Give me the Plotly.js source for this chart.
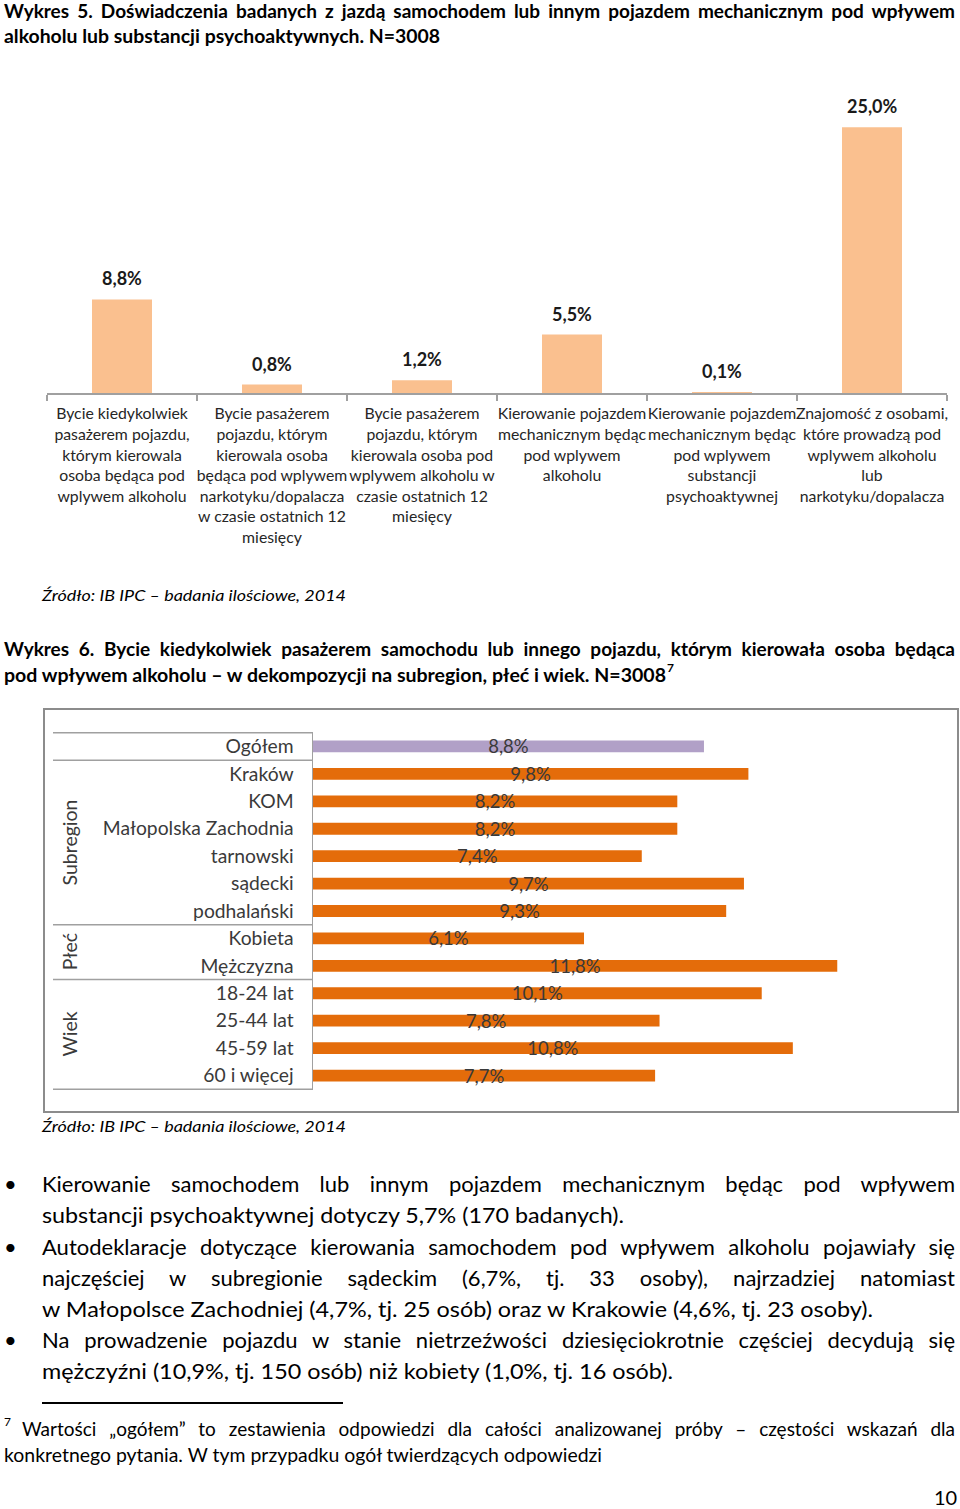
<!DOCTYPE html>
<html>
<head>
<meta charset="utf-8">
<script src="https://cdn.plot.ly/plotly-3.0.1.min.js"></script>
<style>
  html, body { margin:0; padding:0; background:#fff; }
  body { width:960px; height:1509px; position:relative; overflow:hidden; font-family: Lato, "Open Sans", sans-serif; color:#000; }
  .ln { position:absolute; white-space:nowrap; }
  .ln > span { display:inline-block; white-space:nowrap; transform-origin:0 50%; }
  .b { font-weight:700; }
  .i { font-style:italic; }
  #chart1 { position:absolute; left:0; top:60px; width:960px; height:500px; }
  #box2 { position:absolute; left:43px; top:708px; width:916px; height:405px; border:2px solid #8c8c8c; box-sizing:border-box; }
  #chart2 { position:absolute; left:-2px; top:-2px; width:916px; height:405px; }
  .rule { position:absolute; left:42px; top:1402px; width:301px; height:1.5px; background:#000; }
</style>
</head>
<body>
<div id="chart1"></div>
<div id="box2"><div id="chart2"></div></div>
<div class="rule"></div>
<div id="texts"></div>
<script>
// ---------- Chart 1 data (Wykres 5) ----------
const chart1Categories = [
  "Bycie kiedykolwiek<br>pasażerem pojazdu,<br>którym kierowala<br>osoba będąca pod<br>wplywem alkoholu",
  "Bycie pasażerem<br>pojazdu, którym<br>kierowala osoba<br>będąca pod wplywem<br>narkotyku/dopalacza<br>w czasie ostatnich 12<br>miesięcy",
  "Bycie pasażerem<br>pojazdu, którym<br>kierowala osoba pod<br>wplywem alkoholu w<br>czasie ostatnich 12<br>miesięcy",
  "Kierowanie pojazdem<br>mechanicznym będąc<br>pod wplywem<br>alkoholu",
  "Kierowanie pojazdem<br>mechanicznym będąc<br>pod wplywem<br>substancji<br>psychoaktywnej",
  "Znajomość z osobami,<br>które prowadzą pod<br>wplywem alkoholu<br>lub<br>narkotyku/dopalacza"
];
const chart1Values = [8.8, 0.8, 1.2, 5.5, 0.1, 25.0];

// ---------- Chart 2 data (Wykres 6) ----------
const chart2Categories = ["Ogółem","Kraków","KOM","Małopolska Zachodnia","tarnowski","sądecki","podhalański","Kobieta","Mężczyzna","18-24 lat","25-44 lat","45-59 lat","60 i więcej"];
const chart2Values = [8.8, 9.8, 8.2, 8.2, 7.4, 9.7, 9.3, 6.1, 11.8, 10.1, 7.8, 10.8, 7.7];
const chart2Groups = ["", "Subregion","Subregion","Subregion","Subregion","Subregion","Subregion","Płeć","Płeć","Wiek","Wiek","Wiek","Wiek"];
const chart2GroupNames = ["Subregion","Płeć","Wiek"];

const fmt = v => v.toFixed(1).replace('.', ',') + '%';
const FONT = 'Lato, "Open Sans", sans-serif';

// ---------- Chart 1 ----------
Plotly.newPlot('chart1', [{
  type:'bar', x: chart1Categories, y: chart1Values,
  marker:{color:'#fac08f'}, hoverinfo:'none'
}], {
  width:960, height:500,
  margin:{l:47, r:13, t:46, b:167},
  paper_bgcolor:'#fff', plot_bgcolor:'#fff',
  bargap:0.6, showlegend:false,
  font:{family:FONT},
  xaxis:{type:'category', showline:true, linecolor:'#a0a0a0', linewidth:1.5,
         ticks:'outside', tickson:'boundaries', ticklen:6, tickcolor:'#a0a0a0', tickwidth:1.2,
         ticklabelstandoff:6,
         tickfont:{family:FONT, size:15.8, color:'#262626'}, showgrid:false, zeroline:false, tickangle:0},
  yaxis:{range:[0,27], visible:false, showgrid:false, zeroline:false},
  annotations: chart1Categories.map((c,i)=>({
    x:c, y:chart1Values[i], xref:'x', yref:'y', text:'<b>'+fmt(chart1Values[i])+'</b>',
    showarrow:false, yanchor:'middle', yshift:21, font:{family:FONT, size:18, color:'#1a1a1a'}
  }))
}, {staticPlot:true, displayModeBar:false});

// ---------- Chart 2 ----------
const purple = '#b1a0c7', orange = '#e46c0a';
const grpIdx = name => chart2Groups.map((g,i)=>g===name?i:-1).filter(i=>i>=0);
const boundaries = [-0.5, 0.5].concat(chart2GroupNames.map(n => Math.max(...grpIdx(n)) + 0.5));
const xPaperLeft = (53 - 313) / 622;
Plotly.newPlot('chart2', [{
  type:'bar', orientation:'h', y: chart2Categories, x: chart2Values,
  marker:{color: chart2Groups.map(g => g==='' ? purple : orange)},
  text: chart2Values.map(fmt), textposition:'inside', insidetextanchor:'middle',
  constraintext:'none', textfont:{family:FONT, size:18.5, color:'#3a3a3a'},
  hoverinfo:'none', cliponaxis:false
}], {
  width:916, height:405,
  margin:{l:270, r:24, t:24, b:23},
  paper_bgcolor:'rgba(0,0,0,0)', plot_bgcolor:'rgba(0,0,0,0)',
  bargap:0.57, showlegend:false,
  font:{family:FONT},
  xaxis:{range:[0,14.0], visible:false, showgrid:false, zeroline:false},
  yaxis:{type:'category', autorange:'reversed', showline:true, linecolor:'#a0a0a0', linewidth:1.5,
         ticks:'', ticklabelstandoff:14, tickfont:{family:FONT, size:19.3, color:'#3a3a3a'}, showgrid:false, zeroline:false},
  shapes: boundaries.map(b => ({type:'line', xref:'paper', yref:'y', x0:xPaperLeft, x1:0, y0:b, y1:b,
           line:{color:'#a0a0a0', width:1.5}})),
  annotations: chart2GroupNames.map(n => {
    const idx = grpIdx(n);
    return {text:n, xref:'paper', yref:'y', x:(69-313)/622, y:(idx[0]+idx[idx.length-1])/2,
            textangle:-90, showarrow:false, xanchor:'center', yanchor:'middle',
            font:{family:FONT, size:19.5, color:'#3a3a3a'}};
  })
}, {staticPlot:true, displayModeBar:false});

// ---------- Page text ----------
const T = [
  // [text, left, centerY, targetWidth, size, cls, justify]
  ["Wykres 5. Doświadczenia badanych z jazdą samochodem lub innym pojazdem mechanicznym pod wpływem", 4, 10, 951, 19, 'b', true],
  ["alkoholu lub substancji psychoaktywnych. N=3008", 4, 35, 436, 19, 'b', false],
  ["Źródło: IB IPC – badania ilościowe, 2014", 42, 595, 304, 16, 'i', false],
  ["Wykres 6. Bycie kiedykolwiek pasażerem samochodu lub innego pojazdu, którym kierowała osoba będąca", 4, 648, 951, 19, 'b', true],
  ["pod wpływem alkoholu – w dekompozycji na subregion, płeć i wiek. N=3008", 4, 674, 662, 19, 'b', false],
  ["7", 667, 667, 0, 12, 'b', false],
  ["Źródło: IB IPC – badania ilościowe, 2014", 42, 1126, 304, 16, 'i', false],
  ["•", 4, 1183, 0, 22, '', false],
  ["Kierowanie samochodem lub innym pojazdem mechanicznym będąc pod wpływem", 42, 1183, 913, 22, '', true],
  ["substancji psychoaktywnej dotyczy 5,7% (170 badanych).", 42, 1214, 582, 22, '', false],
  ["•", 4, 1246, 0, 22, '', false],
  ["Autodeklaracje dotyczące kierowania samochodem pod wpływem alkoholu pojawiały się", 42, 1246, 913, 22, '', true],
  ["najczęściej w subregionie sądeckim (6,7%, tj. 33 osoby), najrzadziej natomiast", 42, 1277, 913, 22, '', true],
  ["w Małopolsce Zachodniej (4,7%, tj. 25 osób) oraz w Krakowie (4,6%, tj. 23 osoby).", 42, 1308, 831, 22, '', false],
  ["•", 4, 1339, 0, 22, '', false],
  ["Na prowadzenie pojazdu w stanie nietrzeźwości dziesięciokrotnie częściej decydują się", 42, 1339, 913, 22, '', true],
  ["mężczyźni (10,9%, tj. 150 osób) niż kobiety (1,0%, tj. 16 osób).", 42, 1370, 631, 22, '', false],
  ["7", 4, 1421, 0, 12, '', false],
  ["Wartości „ogółem” to zestawienia odpowiedzi dla całości analizowanej próby – częstości wskazań dla", 22, 1428, 933, 19, '', true],
  ["konkretnego pytania. W tym przypadku ogół twierdzących odpowiedzi", 4, 1454, 598, 19, '', false],
  ["10", 934, 1497, 0, 20, '', false]
];
const host = document.getElementById('texts');
const els = T.map(([txt, left, cy, w, size, cls, just]) => {
  const d = document.createElement('div');
  d.className = 'ln ' + cls;
  const h = Math.round(size * 1.4);
  d.style.left = left + 'px';
  d.style.top = (cy - h/2) + 'px';
  d.style.height = h + 'px';
  d.style.lineHeight = h + 'px';
  d.style.fontSize = size + 'px';
  const s = document.createElement('span');
  s.textContent = txt;
  d.appendChild(s);
  host.appendChild(d);
  return {s, w, just};
});
function fit(){
  els.forEach(({s, w, just}) => {
    if (!w) return;
    const nat = s.getBoundingClientRect().width;
    if (just && nat < w) {
      s.style.whiteSpace = 'normal';
      s.style.width = w + 'px';
      s.style.textAlign = 'justify';
      s.style.textAlignLast = 'justify';
    } else {
      s.style.transform = 'scaleX(' + (w / nat) + ')';
    }
  });
}
if (document.fonts && document.fonts.ready) document.fonts.ready.then(fit); else fit();
</script>
</body>
</html>
